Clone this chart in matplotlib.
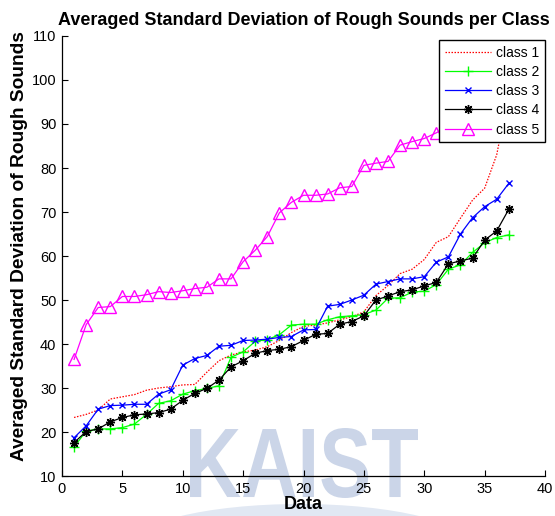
import numpy as np
import matplotlib
matplotlib.use('Agg')
import matplotlib.pyplot as plt
from matplotlib.textpath import TextPath
from matplotlib.patches import PathPatch, Ellipse
from matplotlib.font_manager import FontProperties
from matplotlib.transforms import Affine2D

plt.rcParams['font.family'] = ['Liberation Sans', 'DejaVu Sans']

# averaged std per sample, sorted ascending, one list per class
data_idx = list(range(1, 38))
class1 = [23.3, 24.0, 25.0, 27.5, 28.0, 28.5, 29.5, 30.0, 30.3, 30.7, 30.8, 33.6, 36.2,
          37.5, 38.2, 38.6, 39.4, 40.8, 42.6, 44.0, 44.3, 44.8, 45.5, 46.2, 47.3, 51.0,
          53.3, 56.0, 57.0, 59.2, 63.1, 64.4, 68.6, 72.7, 75.4, 83.0, 97.0]
class2 = [16.6, 20.2, 20.7, 20.7, 21.0, 21.8, 24.0, 26.5, 27.1, 28.6, 29.4, 29.9, 30.5,
          37.0, 38.2, 40.6, 41.0, 42.1, 44.3, 44.5, 44.5, 45.5, 46.2, 46.4, 46.7, 47.7,
          50.4, 50.5, 51.8, 52.0, 53.5, 57.0, 58.0, 60.8, 63.0, 64.2, 64.8]
class3 = [18.7, 21.4, 25.2, 26.0, 26.1, 26.3, 26.3, 28.6, 29.6, 35.2, 36.7, 37.4, 39.5,
          39.7, 40.8, 40.9, 41.1, 41.5, 41.7, 43.2, 43.3, 48.6, 49.0, 50.0, 51.1, 53.6,
          54.2, 54.8, 54.8, 55.3, 58.6, 59.8, 65.0, 68.7, 71.2, 72.9, 76.5]
class4 = [17.6, 20.1, 20.7, 22.3, 23.3, 23.9, 24.1, 24.4, 25.2, 27.2, 28.8, 29.9, 31.8,
          34.8, 36.2, 37.9, 38.5, 38.8, 39.4, 40.8, 42.2, 42.4, 44.5, 45.1, 46.4, 50.0,
          50.9, 51.9, 52.3, 53.2, 54.0, 58.2, 58.9, 59.5, 63.6, 65.7, 70.6]
class5 = [36.5, 44.4, 48.3, 48.5, 50.8, 50.8, 51.2, 51.9, 51.7, 52.1, 52.6, 52.9, 54.8,
          54.8, 58.7, 61.3, 64.4, 69.8, 72.2, 73.8, 73.8, 74.1, 75.5, 75.8, 80.6, 81.1,
          81.5, 85.2, 86.0, 86.7, 88.0, 89.5, 91.0, 93.0, 95.5, 98.0, 101.0]
labels = ['class 1', 'class 2', 'class 3', 'class 4', 'class 5']

W, H = 555, 516
fig = plt.figure(figsize=(W / 100, H / 100), dpi=100)
ax = fig.add_axes([62 / W, 40 / H, 483 / W, 440 / H])
ax.set_facecolor('none')

lw = 0.9
ax.plot(data_idx, class1, color='#ff0000', lw=lw, linestyle=(0, (1.2, 1.2)), label=labels[0])
ax.plot(data_idx, class2, color='#00ff00', lw=lw, marker='+', ms=7, mew=1.0, label=labels[1])
ax.plot(data_idx, class3, color='#0000ff', lw=lw, marker='x', ms=4, mew=1.0, label=labels[2])
ax.plot(data_idx, class4, color='black', lw=lw, marker=(8, 2, 0), ms=6.5, mew=1.0, label=labels[3])
ax.plot(data_idx, class5, color='#ff00ff', lw=lw, marker='^', ms=9, mfc='none', mew=1.0,
        label=labels[4])

ax.set_xlim(0, 40)
ax.set_ylim(10, 110)
ax.set_xticks(np.arange(0, 41, 5))
ax.set_yticks(np.arange(10, 111, 10))
ax.tick_params(direction='in', length=4, width=0.8, labelsize=10.5, pad=4)
for s in ['top', 'right']:
    ax.spines[s].set_visible(False)
for s in ['left', 'bottom']:
    ax.spines[s].set_linewidth(0.9)

ax.set_title('Averaged Standard Deviation of Rough Sounds per Class',
             fontsize=13, fontweight='bold', pad=8)
ax.set_xlabel('Data', fontsize=13, fontweight='bold')
ax.set_ylabel('Averaged Standard Deviation of Rough Sounds', fontsize=13.8, fontweight='bold')
ax.xaxis.set_label_coords(0.5, -0.045)
ax.yaxis.set_label_coords(-0.07, 0.522)

leg = ax.legend(loc='upper right', bbox_to_anchor=(1.0, 0.991), numpoints=1, fontsize=10,
                handlelength=3.3, handletextpad=0.4, labelspacing=0.38, borderpad=0.4,
                fancybox=False, framealpha=1, edgecolor='black', borderaxespad=0)
leg.get_frame().set_linewidth(1.0)

# faint logo behind the plot
tp = TextPath((0, 0), 'KAIST', size=1,
              prop=FontProperties(family='Liberation Sans', weight='bold'))
ext = tp.get_extents()
x0, x1, y0, y1 = 190, 418, 18, 88
tr = (Affine2D().translate(-ext.x0, -ext.y0)
      .scale((x1 - x0) / ext.width, (y1 - y0) / ext.height)
      .translate(x0, y0).scale(1 / W, 1 / H) + fig.transFigure)
logo = PathPatch(tp, facecolor='#cbd5e8', edgecolor='none', transform=tr, zorder=-2)
fig.add_artist(logo)
arc = Ellipse((300 / W, -30 / H), 340 / W, 84 / H, transform=fig.transFigure,
              facecolor='#e1e8f3', edgecolor='none', zorder=-3)
fig.add_artist(arc)

fig.savefig('out.png', dpi=100)
